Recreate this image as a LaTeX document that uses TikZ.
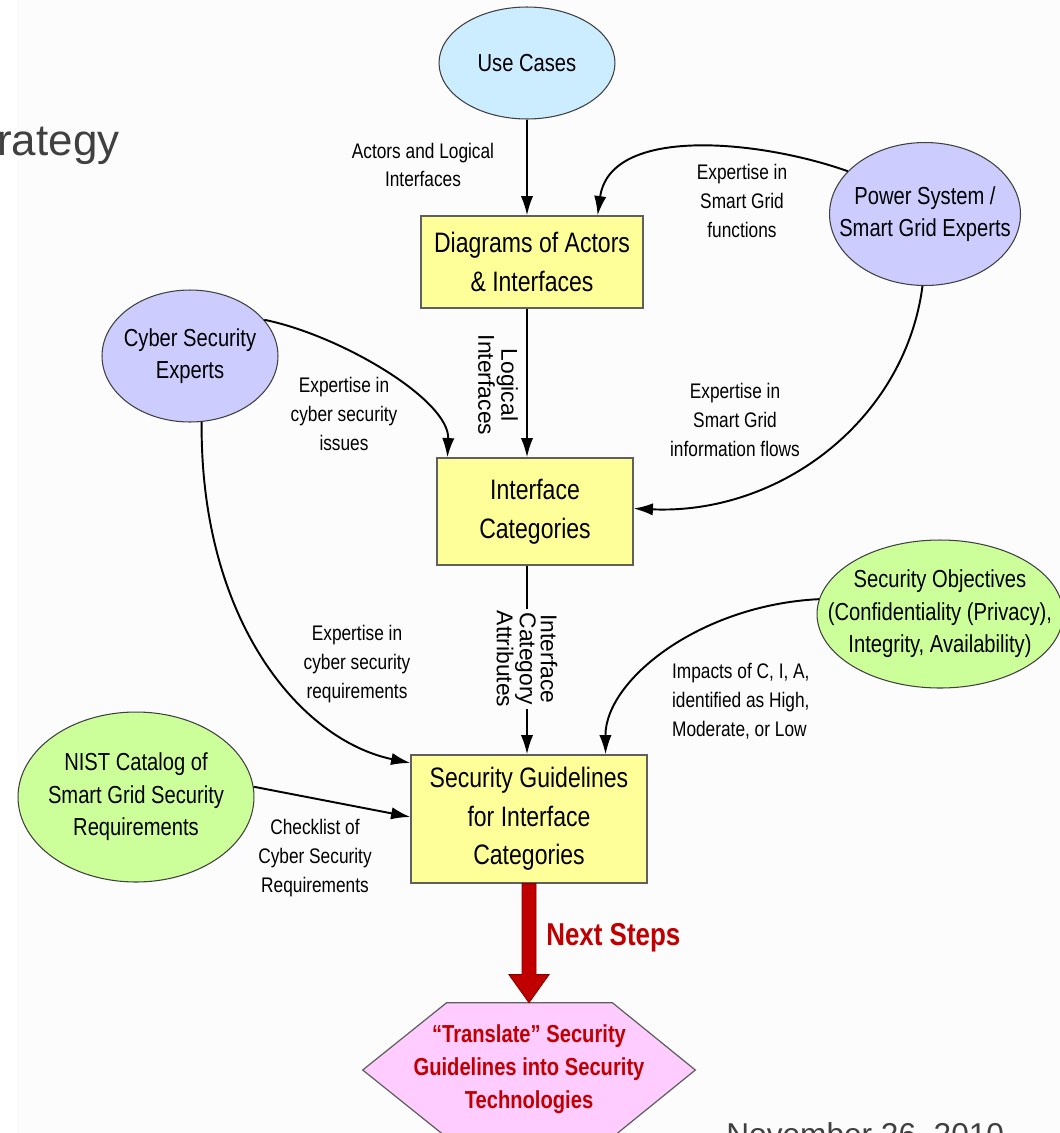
\documentclass[tikz,border=0pt]{standalone}
\usepackage{fontspec}
\setmainfont{Liberation Sans}
\newfontfamily\nf[FakeStretch=0.82]{Liberation Sans}
\usetikzlibrary{shapes.geometric,arrows.meta,calc}
\definecolor{bgc}{HTML}{FCFCFC}
\definecolor{boxfill}{HTML}{FFFF99}
\definecolor{boxline}{HTML}{5F5F5F}
\definecolor{ellline}{HTML}{404040}
\definecolor{ucfill}{HTML}{CCECFF}
\definecolor{purp}{HTML}{CCCCFF}
\definecolor{grn}{HTML}{CCFF99}
\definecolor{pink}{HTML}{FFCCFF}
\definecolor{darkred}{HTML}{C00000}
\definecolor{titlegray}{HTML}{404040}
\begin{document}
\begin{tikzpicture}[x=0.02cm,y=-0.02cm,
 box/.style={draw=boxline, fill=boxfill, line width=0.7pt, inner sep=0pt, align=center, font=\nf\fontsize{16}{22}\selectfont},
 ell/.style={ellipse, draw=ellline, line width=0.6pt, inner sep=0pt},
 etext/.style={align=center, font=\nf\fontsize{14}{18.5}\selectfont},
 lbl/.style={align=center, font=\nf\fontsize{12}{16.4}\selectfont, inner sep=1pt},
 rlbl/.style={align=center, rotate=-90, font=\fontsize{13}{12}\selectfont, inner sep=1pt},
 arr/.style={-{Latex[length=11pt,width=7pt]}, line width=1.1pt},
]
\useasboundingbox (0,0) rectangle (1060,1133);
\fill[white] (0,0) rectangle (1060,1133);
\fill[bgc] (17,0) rectangle (1060,1133);

% title fragments
\node[anchor=base west, inner sep=0pt, text=titlegray, font=\fontsize{25}{30}\selectfont] (title) at (-3,155) {rategy};
\node[anchor=base west, inner sep=0pt, text=titlegray, font=\fontsize{18}{22}\selectfont] (date) at (726,1145) {November 26, 2010};

% ellipses
\node[ell, fill=ucfill, minimum width=3.52cm, minimum height=2.24cm,
  label={[etext]center:{Use Cases}}] (uc) at (527,63) {};
\node[ell, fill=purp, minimum width=3.82cm, minimum height=2.86cm,
  label={[etext]center:{Power System /\\Smart Grid Experts}}] (pw) at (925,214) {};
\node[ell, fill=purp, minimum width=3.52cm, minimum height=2.64cm,
  label={[etext]center:{Cyber Security\\Experts}}] (cs) at (190,356) {};
\node[ell, fill=grn, minimum width=4.92cm, minimum height=2.96cm,
  label={[etext]center:{Security Objectives\\(Confidentiality (Privacy),\\Integrity, Availability)}}] (so) at (940,614) {};
\node[ell, fill=grn, minimum width=4.72cm, minimum height=3.4cm,
  label={[etext]center:{NIST Catalog of\\Smart Grid Security\\Requirements}}] (nist) at (136,797) {};

% boxes
\node[box, minimum width=4.44cm, minimum height=1.84cm] (dg) at (532,262) {Diagrams of Actors\\\& Interfaces};
\node[box, minimum width=3.92cm, minimum height=2.14cm] (ic) at (535,511.5) {Interface\\Categories};
\node[box, minimum width=4.72cm, minimum height=2.56cm] (sg) at (529,819) {Security Guidelines\\for Interface\\Categories};

% hexagon
\node[minimum width=6.64cm, minimum height=2.68cm, inner sep=0pt] (hex) at (529,1070) {};
\filldraw[fill=pink, draw=boxline, line width=0.7pt]
  ($(hex.north west)+(84,0)$) -- ($(hex.north east)+(-83,0)$) -- (hex.east)
  -- ($(hex.south east)+(-83,0)$) -- ($(hex.south west)+(84,0)$) -- (hex.west) -- cycle;
\node[align=center, text=darkred, font=\nf\bfseries\fontsize{14}{18.7}\selectfont] (hext) at (529,1069)
  {“Translate” Security\\Guidelines into Security\\Technologies};

% big red arrow
\filldraw[fill=darkred, draw=darkred!70!black, line width=0.5pt]
  ($(sg.south)+(-7,0)$) -- ($(sg.south)+(7,0)$) -- ($(hex.north)+(7,-28)$) -- ($(hex.north)+(20,-28)$)
  -- (hex.north) -- ($(hex.north)+(-20,-28)$) -- ($(hex.north)+(-7,-28)$) -- cycle;
\node[anchor=west, inner sep=0pt, text=darkred, font=\nf\bfseries\fontsize{18}{20}\selectfont] (ns) at (546,938) {Next Steps};

% connectors
\draw[arr] (uc.south) -- (uc.south |- dg.north);
\draw[arr] (uc.south |- dg.south) -- (uc.south |- ic.north);
\draw[arr] (uc.south |- ic.south) -- (uc.south |- sg.north);
\draw[arr] (pw.151) .. controls (760,140) and (610,125) .. ($(dg.north east)+(-46,0)$);
\draw[arr] (pw.268) .. controls (905,420) and (780,515) .. ($(ic.east)+(0,-3)$);
\draw[arr] (cs.26) .. controls (340,335) and (450,400) .. ($(ic.north west)+(11,0)$);
\draw[arr] (cs.-80) .. controls (200,620) and (300,740) .. ($(sg.west)+(0,-56)$);
\draw[arr] (so.173) .. controls (700,605) and (605,680) .. ($(sg.north east)+(-42,0)$);
\draw[arr] (nist.5) -- ($(sg.west)+(0,-2)$);

% labels
\node[lbl] (l1) at (423,165) {Actors and Logical\\Interfaces};
\node[lbl] (l2) at (742,201) {Expertise in\\Smart Grid\\functions};
\node[lbl] (l3) at (735,420) {Expertise in\\Smart Grid\\information flows};
\node[lbl] (l4) at (344,414) {Expertise in\\cyber security\\issues};
\node[rlbl] (l5) at (498,385) {Logical\\Interfaces};
\node[lbl] (l6) at (357,664) {Expertise in\\cyber security\\requirements};
\node[rlbl, fill=bgc] (l7) at (527,659) {Interface\\Category\\Attributes};
\node[lbl, align=left, anchor=west] (l8) at (670,701) {Impacts of C, I, A,\\identified as High,\\Moderate, or Low};
\node[lbl] (l9) at (315,858) {Checklist of\\Cyber Security\\Requirements};
\end{tikzpicture}
\end{document}
